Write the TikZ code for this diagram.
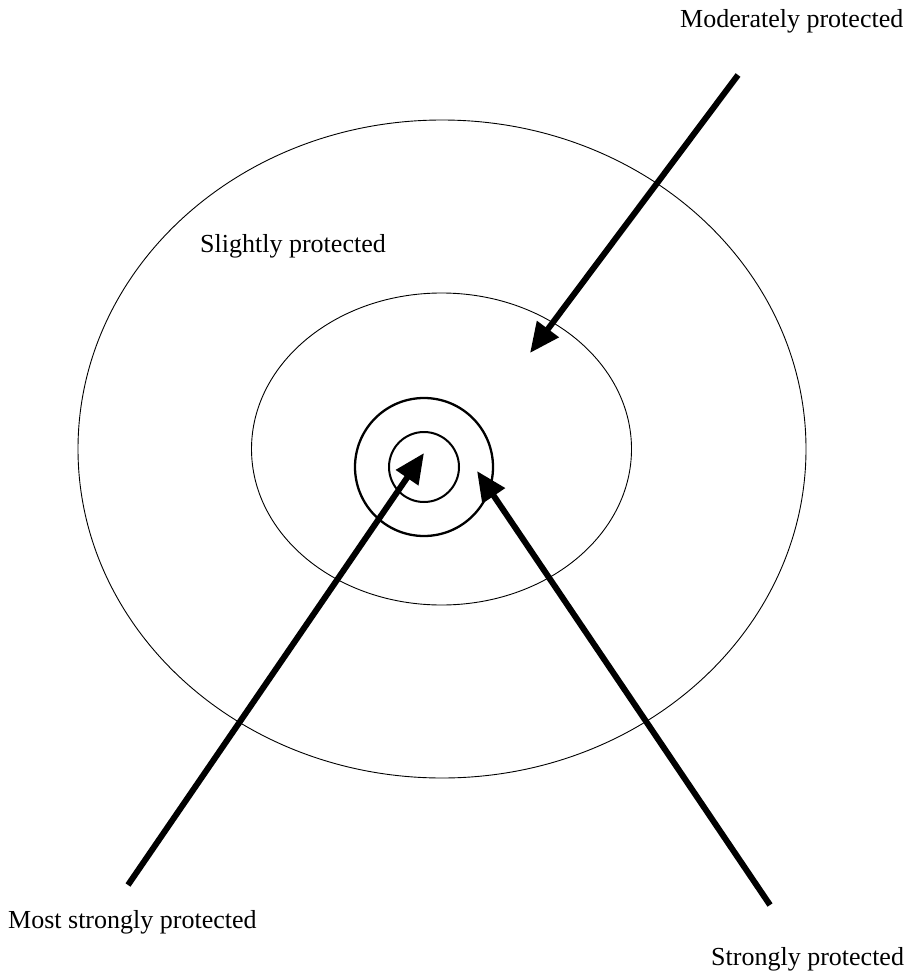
\documentclass[tikz,border=0pt]{standalone}
\usepackage{fontspec}
\setmainfont{Liberation Serif}
\usetikzlibrary{arrows.meta}
\begin{document}
\begin{tikzpicture}[x=1pt,y=-1pt,
  ring/.style={draw=black,line width=0.9pt},
  core/.style={draw=black,line width=2.3pt},
  bigarrow/.style={line width=6pt,-{Triangle[length=30pt,width=26pt]}},
  lbl/.style={anchor=base west,inner sep=0pt,font=\fontsize{26}{30}\selectfont}]
\useasboundingbox (0,0) rectangle (917,973);
\draw[ring] (442,449) ellipse [x radius=364,y radius=329];
\draw[ring] (441.5,449) ellipse [x radius=190,y radius=156];
\draw[core] (424,467) circle [radius=69];
\draw[core,line width=2pt] (424,467) circle [radius=35];
\node[lbl] (mod) at (680,28) {Moderately protected};
\node[lbl] (sli) at (200,253) {Slightly protected};
\node[lbl] (most) at (8,928) {Most strongly protected};
\node[lbl] (str) at (711,965) {Strongly protected};
\coordinate (a1s) at (738,75);
\coordinate (a1e) at (530,353);
\coordinate (a2s) at (128,885);
\coordinate (a2e) at (424,453);
\coordinate (a3s) at (770,905);
\coordinate (a3e) at (477,471);
\draw[bigarrow] (a1s) -- (a1e);
\draw[bigarrow] (a2s) -- (a2e);
\draw[bigarrow] (a3s) -- (a3e);
\end{tikzpicture}
\end{document}
